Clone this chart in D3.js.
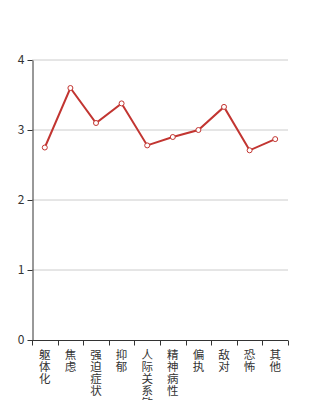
<!DOCTYPE html>
<html>
<head>
<meta charset="utf-8">
<script src="https://cdn.jsdelivr.net/npm/d3@7"></script>
<style>
  body { margin: 0; background: #fff; }
  text { font-family: "Noto Sans CJK SC", "Noto Sans", sans-serif; }
</style>
</head>
<body>
<div id="graph"></div>
<script>
var categories = ["躯体化", "焦虑", "强迫症状", "抑郁", "人际关系敏感", "精神病性", "偏执", "敌对", "恐怖", "其他"];
var scores = [2.75, 3.6, 3.1, 3.38, 2.78, 2.9, 3.0, 3.33, 2.71, 2.87];
var yTicks = [0, 1, 2, 3, 4];

var margin = {top: 60, right: 32, bottom: 60, left: 32};
var width = 320 - margin.left - margin.right;
var height = 400 - margin.top - margin.bottom;

var svg = d3.select('#graph')
  .append('svg')
    .attr("width", 320)
    .attr("height", 400)
  .append("g")
    .attr("transform", "translate(" + margin.left + "," + margin.top + ")");

var x = d3.scaleBand()
  .domain(categories)
  .range([0, width]);

var y = d3.scaleLinear()
  .domain([0, 4])
  .range([height, 0]);

// grid lines
svg.append("g")
  .selectAll("line")
  .data(yTicks.filter(function(d) { return d > 0; }))
  .join("line")
    .attr("x1", 0)
    .attr("x2", width)
    .attr("y1", function(d) { return y(d); })
    .attr("y2", function(d) { return y(d); })
    .attr("stroke", "#ccc")
    .attr("stroke-width", 1);

// Y axis
var yAxis = svg.append("g")
  .attr("transform", "translate(0.5,0)")
  .call(d3.axisLeft(y).tickValues(yTicks).tickSize(5).tickSizeOuter(0).tickFormat(d3.format("d")));
yAxis.select(".domain").attr("stroke", "#333");
yAxis.selectAll(".tick line").attr("stroke", "#333");
yAxis.selectAll(".tick text").attr("fill", "#333").style("font-size", "12px").attr("x", -8);

// X axis
var xTickPos = d3.range(categories.length + 1).map(function(i) { return x.step() * i; });
var xAxis = svg.append("g")
  .attr("transform", "translate(0," + (height + 0.5) + ")");
xAxis.append("line")
  .attr("x1", 0).attr("x2", width)
  .attr("stroke", "#333");
xAxis.selectAll(".xt")
  .data(xTickPos)
  .join("line")
    .attr("class", "xt")
    .attr("x1", function(d) { return Math.round(d) + 0.5; })
    .attr("x2", function(d) { return Math.round(d) + 0.5; })
    .attr("y1", 0).attr("y2", 5)
    .attr("stroke", "#333");

// vertical labels, one character per line
var labels = xAxis.selectAll(".xl")
  .data(categories)
  .join("text")
    .attr("class", "xl")
    .attr("fill", "#333")
    .style("font-size", "11.5px")
    .attr("text-anchor", "middle");
labels.each(function(d) {
  var t = d3.select(this);
  var cx = x(d) + x.bandwidth() / 2;
  d.split("").forEach(function(ch, i) {
    t.append("tspan")
      .attr("x", cx)
      .attr("y", 18 + i * 12)
      .text(ch);
  });
});

// line
svg.append("path")
  .datum(scores)
  .attr("fill", "none")
  .attr("stroke", "#c23531")
  .attr("stroke-width", 2)
  .attr("d", d3.line()
    .x(function(d, i) { return x(categories[i]) + x.bandwidth() / 2; })
    .y(function(d) { return y(d); })
  );

svg.append("g")
  .selectAll("circle")
  .data(scores)
  .join("circle")
    .attr("cx", function(d, i) { return x(categories[i]) + x.bandwidth() / 2; })
    .attr("cy", function(d) { return y(d); })
    .attr("r", 2.5)
    .attr("fill", "#fff")
    .attr("stroke", "#c23531")
    .attr("stroke-width", 1);
</script>
</body>
</html>
